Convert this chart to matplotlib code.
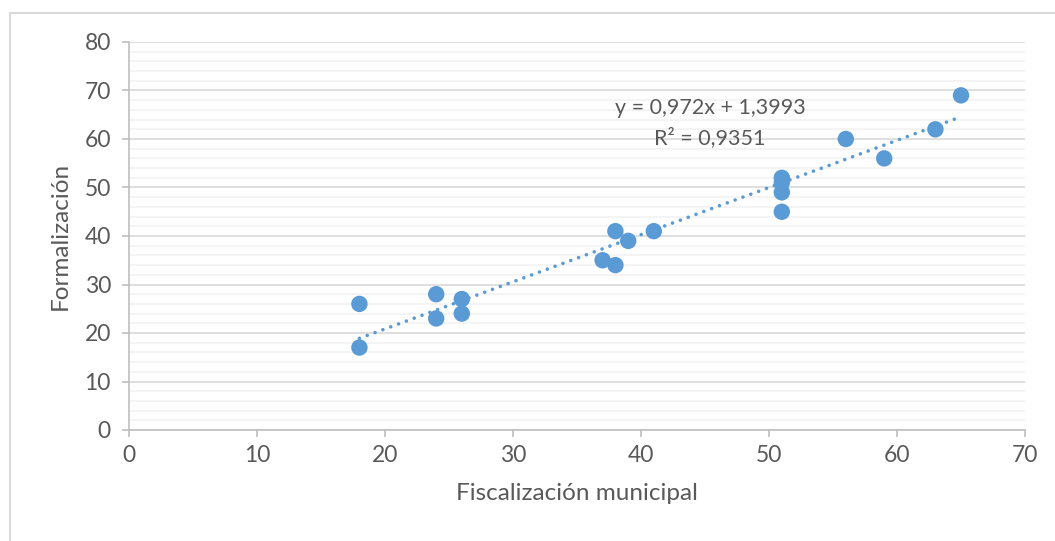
import matplotlib
matplotlib.use('Agg')
import matplotlib.pyplot as plt
import matplotlib.patches as mpatches
import numpy as np
from matplotlib import rcParams
from matplotlib.ticker import MultipleLocator

rcParams['font.family'] = ['Lato', 'DejaVu Sans']

# --- Daten ---
fiscalizacion = [18, 18, 24, 24, 26, 26, 37, 38, 38, 39, 41, 51, 51, 51, 51, 56, 59, 63, 65]
formalizacion = [26, 17, 28, 23, 27, 24, 35, 41, 34, 39, 41, 52, 51, 49, 45, 60, 56, 62, 69]
pendiente = 0.972
intercepto = 1.3993
r2 = 0.9351

COLOR_PUNTO = '#5B9BD5'
COLOR_TEXTO = '#595959'

fig = plt.figure(figsize=(10.55, 5.41), dpi=100)
ax = fig.add_axes([129 / 1055, 1 - 430 / 541, 896 / 1055, 388 / 541])

# Rahmen um das Diagramm
frame = mpatches.Rectangle((10 / 1055, -0.1), 1.1, 1 - 13 / 541 + 0.1,
                           transform=fig.transFigure, fill=False,
                           edgecolor='#D9D9D9', linewidth=1.5, zorder=0)
fig.patches.append(frame)

ax.scatter(fiscalizacion, formalizacion, s=140, color=COLOR_PUNTO, zorder=3,
           edgecolors='none')

xs = np.array([min(fiscalizacion), max(fiscalizacion)])
ax.plot(xs, pendiente * xs + intercepto, color=COLOR_PUNTO, linewidth=2.6,
        linestyle=(0, (0.01, 2.3)), dash_capstyle='round', zorder=2)

ax.text(45.4, 66.4, f'y = {pendiente:.3f}x + {intercepto:.4f}'.replace('.', ','),
        ha='center', va='center', fontsize=15.5, color=COLOR_TEXTO)
ax.text(45.4, 60.2, f'R² = {r2:.4f}'.replace('.', ','),
        ha='center', va='center', fontsize=15.5, color=COLOR_TEXTO)

ax.set_xlim(0, 70)
ax.set_ylim(0, 80)
ax.xaxis.set_major_locator(MultipleLocator(10))
ax.yaxis.set_major_locator(MultipleLocator(10))
ax.yaxis.set_minor_locator(MultipleLocator(2))

ax.grid(True, which='major', axis='y', color='#D9D9D9', linewidth=1.2, zorder=0)
ax.grid(True, which='minor', axis='y', color='#F2F2F2', linewidth=1.2, zorder=0)
ax.set_axisbelow(True)

for s in ['top', 'right']:
    ax.spines[s].set_visible(False)
for s in ['left', 'bottom']:
    ax.spines[s].set_color('#BFBFBF')
    ax.spines[s].set_linewidth(1.2)

ax.tick_params(which='major', direction='out', length=5, width=1.2, color='#BFBFBF',
               labelsize=16.5, labelcolor=COLOR_TEXTO, pad=6)
ax.tick_params(which='minor', length=0)
ax.tick_params(axis='y', pad=8)

ax.set_xlabel('Fiscalización municipal', fontsize=17.5, color=COLOR_TEXTO, labelpad=12)
ax.set_ylabel('Formalización', fontsize=17.5, color=COLOR_TEXTO, labelpad=10)

fig.savefig('out.png', dpi=100)
